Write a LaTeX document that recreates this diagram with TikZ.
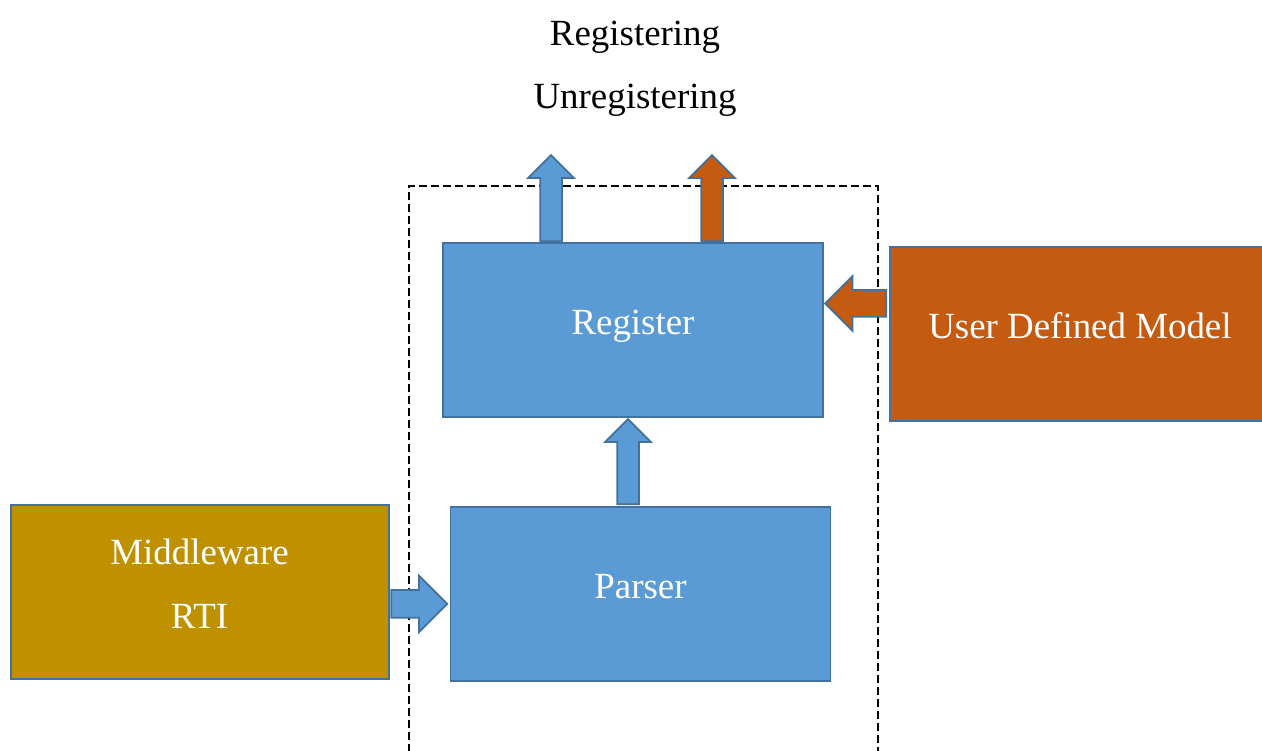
\documentclass[tikz,border=0pt]{standalone}
\usepackage{fontspec}
\setmainfont{Liberation Serif}
\usetikzlibrary{positioning, shapes.arrows}

\definecolor{boxblue}{HTML}{5B9BD5}
\definecolor{edgeblue}{HTML}{41719C}
\definecolor{boxorange}{HTML}{C55A11}
\definecolor{boxgold}{HTML}{BF9000}

\tikzset{
  block/.style={draw=edgeblue, line width=1.1pt, minimum width=7.6cm,
    minimum height=3.48cm, text=white, align=center,
    text height=0.6cm, text depth=0.4cm,
    font=\fontsize{21}{25}\selectfont},
  fatarrow/.style={single arrow, draw=edgeblue, line width=1pt,
    inner xsep=0pt, inner ysep=0.2cm, minimum width=0.88cm,
    single arrow head extend=0.24cm},
}

\begin{document}
\begin{tikzpicture}
\useasboundingbox (0,0) rectangle (25.24,15.02);

\node[block, fill=boxblue] (reg) at (12.66,8.42) {Register};
\node[block, fill=boxblue, below=1.76cm of reg, xshift=0.15cm] (parser) {Parser};
\node[block, fill=boxgold, minimum width=7.56cm, left=1.2cm of parser, yshift=0.04cm] (rti)
  {\begin{tabular}{@{}c@{}}Middleware\\[11pt]RTI\end{tabular}};
\node[block, fill=boxorange, right=1.3cm of reg, yshift=-0.08cm] (udm) {User Defined Model};

\node[align=center, font=\fontsize{21}{25}\selectfont] (labels) at (12.7,13.64)
  {Registering\\[11pt]Unregistering};

% dashed frame, open at the bottom
\draw[dashed, line width=1.1pt, dash pattern=on 0.16cm off 0.08cm]
  (8.18,-0.5) |- (17.56,11.3) -- (17.56,-0.5);

% block arrows
\node[fatarrow, fill=boxblue, rotate=90, anchor=tail, minimum height=1.72cm]
  (out1) at ([xshift=-1.64cm]reg.north) {};
\node[fatarrow, fill=boxorange, rotate=90, anchor=tail, minimum height=1.72cm]
  (out2) at ([xshift=1.58cm]reg.north) {};
\node[fatarrow, fill=boxblue, rotate=90, anchor=tip, minimum height=1.7cm]
  (up) at ([xshift=-0.1cm]reg.south) {};
\node[fatarrow, fill=boxblue, anchor=tip, minimum height=1.12cm,
  inner ysep=0.26cm, minimum width=1.1cm, single arrow head extend=0.29cm]
  (in1) at ([xshift=-0.02cm, yshift=-0.2cm]parser.west) {};
\node[fatarrow, fill=boxorange, rotate=180, anchor=tip, minimum height=1.22cm,
  inner ysep=0.25cm, minimum width=1.06cm, single arrow head extend=0.28cm]
  (in2) at ([yshift=0.53cm]reg.east) {};
\end{tikzpicture}
\end{document}
